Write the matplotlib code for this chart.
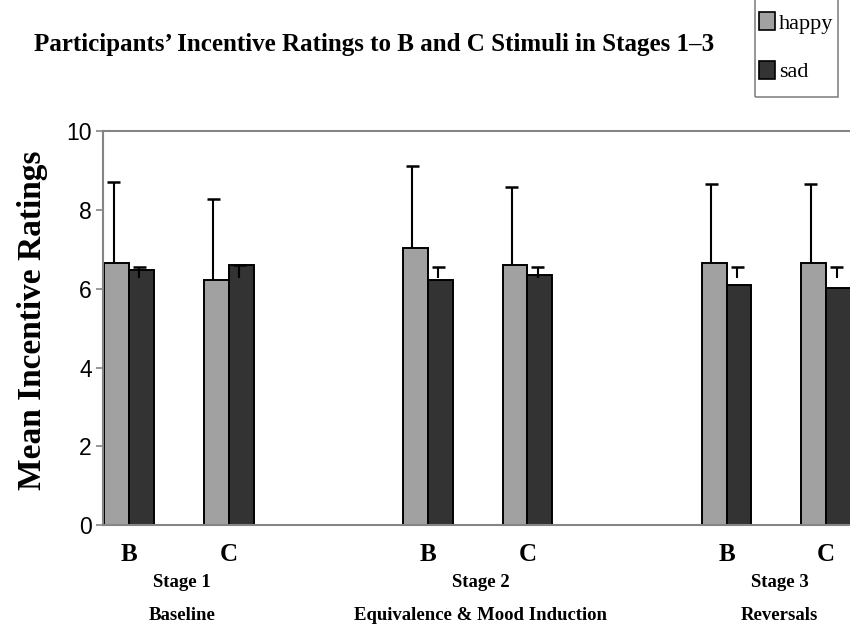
import numpy as np
import matplotlib.pyplot as plt
from matplotlib.patches import Patch, Rectangle

# data
stages = ["Stage 1", "Stage 2", "Stage 3"]
stage_names = ["Baseline", "Equivalence & Mood Induction", "Reversals"]
stimuli = ["B", "C"]

happy_mean = [6.66, 6.22, 7.05, 6.60, 6.66, 6.66]
happy_top = [8.72, 8.28, 9.12, 8.60, 8.66, 8.66]   # upper end of the error bar
sad_mean = [6.48, 6.60, 6.22, 6.36, 6.10, 6.03]
sad_err_lo = [6.28, 6.28, 6.28, 6.28, 6.28, 6.28]   # sad error bars sit at fixed height
sad_err_hi = [6.55, 6.60, 6.55, 6.55, 6.55, 6.55]

happy_col = "#a1a1a1"
sad_col = "#333333"
grey = "#858585"
w = 0.25

pos = np.array([s * 3 + k for s in range(len(stages)) for k in range(len(stimuli))], dtype=float)

fig = plt.figure(figsize=(8.5, 6.35), dpi=100)
ax = fig.add_axes([103 / 850, 1 - 525 / 635, 1 - 103 / 850, (525 - 131.5) / 635])

ax.bar(pos - w / 2, happy_mean, width=w, color=happy_col, edgecolor="black", lw=1.4, zorder=2)
ax.bar(pos + w / 2, sad_mean, width=w, color=sad_col, edgecolor="black", lw=1.4, zorder=2)

# happy: one-sided error bars going up from the bar top
ax.vlines(pos - w / 2 - 0.03, happy_mean, happy_top, color="black", lw=1.5, zorder=3)
ax.hlines(happy_top, pos - w / 2 - 0.03 - 0.065, pos - w / 2 - 0.03 + 0.065, color="black", lw=1.8, zorder=3)
# sad: small "T" shaped bars
ax.vlines(pos + w / 2 - 0.02, sad_err_lo, sad_err_hi, color="black", lw=1.5, zorder=3)
ax.hlines(sad_err_hi, pos + w / 2 - 0.02 - 0.065, pos + w / 2 - 0.02 + 0.065, color="black", lw=1.8, zorder=3)

ax.set_xlim((103 - 129) / 99.6, (850 - 129) / 99.6)
ax.set_ylim(0, 10)
ax.set_yticks(np.arange(0, 11, 2))
ax.set_xticks([])
for sp in ["left", "top", "bottom"]:
    ax.spines[sp].set_color(grey)
    ax.spines[sp].set_linewidth(1.5)
ax.spines["right"].set_visible(False)
ax.tick_params(axis="y", direction="out", length=5, width=1.2, color=grey,
               labelsize=16.5, pad=3)
for t in ax.get_yticklabels():
    t.set_family("Liberation Sans")

ax.set_ylabel("Mean Incentive Ratings", family="Liberation Serif", fontweight="bold",
              fontsize=24)
ax.yaxis.set_label_coords(-0.074, 0.52)

# category labels under the axis
serif = dict(family="Liberation Serif", fontweight="bold", ha="center", va="center")
for i, p in enumerate(pos):
    ax.text(p, -0.75, stimuli[i % 2], fontsize=18, clip_on=False, **serif)
for s in range(len(stages)):
    mid = (pos[2 * s] + pos[2 * s + 1]) / 2
    ax.text(mid + 0.03, -1.45, stages[s], fontsize=13.5, clip_on=False, **serif)
    ax.text(mid + 0.03, -2.3, stage_names[s], fontsize=13.5, clip_on=False, **serif)

fig.text(374 / 850, 1 - 45 / 635, "Participants\u2019 Incentive Ratings to B and C Stimuli in Stages 1\u20133",
         fontsize=18, **serif)

# legend (frame drawn separately; its top runs off the figure)
handles = [Patch(facecolor=happy_col, edgecolor="black", lw=1.2, label="happy"),
           Patch(facecolor=sad_col, edgecolor="black", lw=1.2, label="sad")]
fig.legend(handles=handles, loc="upper left", bbox_to_anchor=(759 / 850, 1 - 12 / 635),
           prop=dict(family="Liberation Serif", size=16), frameon=False,
           handlelength=0.7, handleheight=0.9, handletextpad=0.2, labelspacing=1.2,
           borderpad=0.0, borderaxespad=0)
fig.patches.append(Rectangle((755 / 850, 1 - 97 / 635), 83 / 850, 110 / 635, transform=fig.transFigure,
                             facecolor="none", edgecolor=grey, lw=1.2))

fig.savefig("out.png", dpi=100)
